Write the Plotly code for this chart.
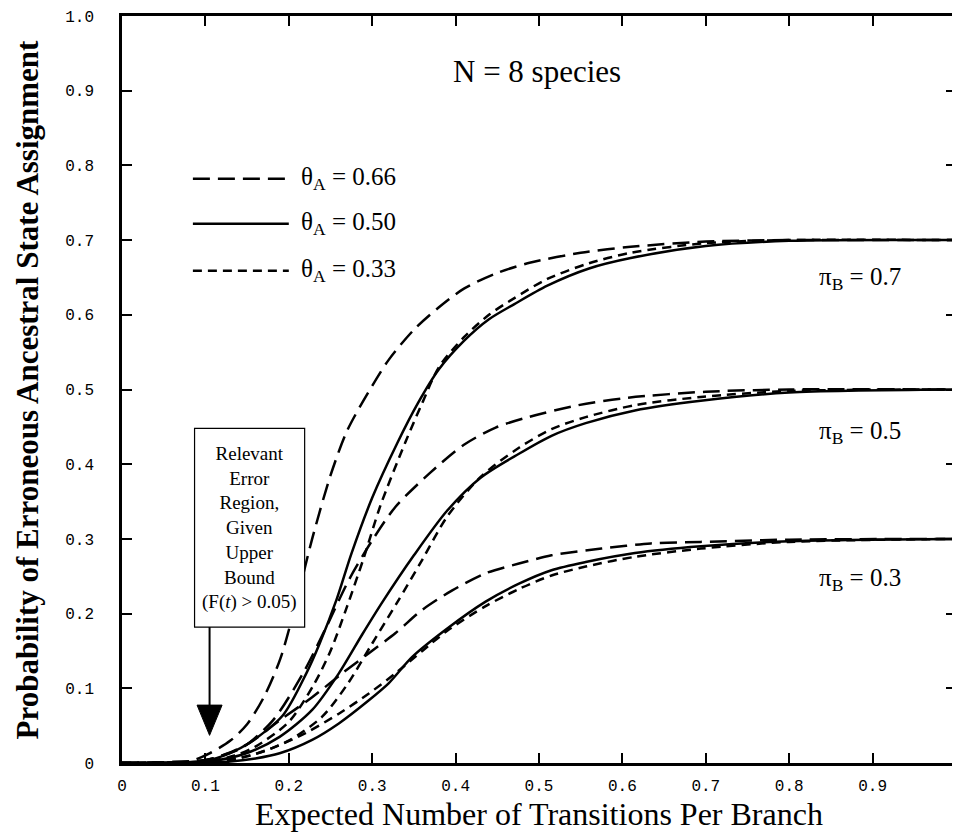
import plotly.graph_objects as go

# ---------------- data ----------------
# pi_B = 0.7
x_a7 = [0.0, 0.08, 0.105, 0.13, 0.15, 0.17, 0.19, 0.21, 0.228, 0.25, 0.27, 0.30, 0.32, 0.35, 0.38, 0.41, 0.45, 0.49, 0.55, 0.61, 0.70, 0.80, 1.0]
y_a7 = [0.0, 0.002, 0.013, 0.03, 0.052, 0.088, 0.14, 0.22, 0.30, 0.385, 0.445, 0.505, 0.54, 0.58, 0.61, 0.635, 0.656, 0.67, 0.683, 0.691, 0.698, 0.7, 0.7]
x_b7 = [0.0, 0.1, 0.129, 0.153, 0.193, 0.221, 0.237, 0.257, 0.275, 0.30, 0.33, 0.355, 0.38, 0.41, 0.44, 0.47, 0.51, 0.56, 0.61, 0.70, 0.80, 1.0]
y_b7 = [0.0, 0.003, 0.013, 0.027, 0.064, 0.12, 0.16, 0.218, 0.28, 0.355, 0.428, 0.482, 0.527, 0.565, 0.594, 0.614, 0.639, 0.662, 0.676, 0.692, 0.699, 0.7]
x_c7 = [0.0, 0.1, 0.135, 0.16, 0.2, 0.23, 0.25, 0.27, 0.29, 0.31, 0.34, 0.36, 0.38, 0.41, 0.44, 0.47, 0.51, 0.56, 0.61, 0.70, 0.80, 1.0]
y_c7 = [0.0, 0.002, 0.01, 0.022, 0.055, 0.105, 0.15, 0.21, 0.275, 0.345, 0.43, 0.482, 0.53, 0.57, 0.6, 0.622, 0.648, 0.669, 0.683, 0.696, 0.7, 0.7]
# pi_B = 0.5
x_a5 = [0.0, 0.1, 0.125, 0.145, 0.181, 0.217, 0.245, 0.272, 0.30, 0.328, 0.368, 0.41, 0.448, 0.487, 0.547, 0.607, 0.70, 0.80, 1.0]
y_a5 = [0.0, 0.004, 0.012, 0.021, 0.057, 0.12, 0.182, 0.245, 0.298, 0.343, 0.387, 0.426, 0.449, 0.463, 0.479, 0.489, 0.497, 0.5, 0.5]
x_b5 = [0.0, 0.11, 0.149, 0.189, 0.228, 0.26, 0.288, 0.312, 0.35, 0.39, 0.43, 0.476, 0.515, 0.556, 0.615, 0.694, 0.80, 1.0]
y_b5 = [0.0, 0.003, 0.013, 0.035, 0.071, 0.12, 0.172, 0.215, 0.278, 0.338, 0.382, 0.414, 0.438, 0.455, 0.472, 0.485, 0.496, 0.5]
x_c5 = [0.0, 0.12, 0.16, 0.2, 0.24, 0.27, 0.30, 0.33, 0.36, 0.39, 0.43, 0.476, 0.515, 0.556, 0.615, 0.694, 0.80, 1.0]
y_c5 = [0.0, 0.003, 0.012, 0.03, 0.062, 0.105, 0.16, 0.215, 0.272, 0.33, 0.383, 0.422, 0.447, 0.463, 0.479, 0.49, 0.498, 0.5]
# pi_B = 0.3
x_a3 = [0.0, 0.1, 0.125, 0.153, 0.189, 0.228, 0.264, 0.296, 0.328, 0.36, 0.396, 0.436, 0.476, 0.515, 0.575, 0.634, 0.694, 0.80, 1.0]
y_a3 = [0.0, 0.004, 0.012, 0.027, 0.057, 0.088, 0.12, 0.147, 0.174, 0.205, 0.231, 0.254, 0.267, 0.278, 0.287, 0.294, 0.296, 0.299, 0.3]
x_b3 = [0.0, 0.13, 0.16, 0.189, 0.228, 0.26, 0.296, 0.32, 0.348, 0.39, 0.436, 0.476, 0.515, 0.556, 0.615, 0.694, 0.80, 1.0]
y_b3 = [0.0, 0.002, 0.006, 0.013, 0.031, 0.053, 0.084, 0.107, 0.142, 0.18, 0.216, 0.24, 0.258, 0.269, 0.281, 0.29, 0.297, 0.3]
x_c3 = [0.0, 0.12, 0.15, 0.18, 0.22, 0.26, 0.296, 0.33, 0.36, 0.39, 0.436, 0.476, 0.515, 0.556, 0.615, 0.694, 0.80, 1.0]
y_c3 = [0.0, 0.003, 0.009, 0.02, 0.04, 0.066, 0.093, 0.122, 0.15, 0.177, 0.21, 0.233, 0.251, 0.263, 0.276, 0.287, 0.296, 0.3]

theta_labels = ["0.66", "0.50", "0.33"]
pi_labels = ["0.7", "0.5", "0.3"]
x_tick_vals = [0.0, 0.1, 0.2, 0.3, 0.4, 0.5, 0.6, 0.7, 0.8, 0.9]
x_tick_text = ["0", "0.1", "0.2", "0.3", "0.4", "0.5", "0.6", "0.7", "0.8", "0.9"]
y_tick_vals = [0.0, 0.1, 0.2, 0.3, 0.4, 0.5, 0.6, 0.7, 0.8, 0.9, 1.0]
y_tick_text = ["0", "0.1", "0.2", "0.3", "0.4", "0.5", "0.6", "0.7", "0.8", "0.9", "1.0"]

# ---------------- styles ----------------
LONG = "17px,8px"
SOLID = "solid"
SHORT = "9px,6px"
dash_for_theta = {"0.66": LONG, "0.50": SOLID, "0.33": SHORT}
SERIF = "Liberation Serif, Times New Roman, serif"
MONO = "Liberation Mono, Courier New, monospace"

curves = [
    (x_a7, y_a7, "0.66"), (x_b7, y_b7, "0.50"), (x_c7, y_c7, "0.33"),
    (x_a5, y_a5, "0.66"), (x_b5, y_b5, "0.50"), (x_c5, y_c5, "0.33"),
    (x_a3, y_a3, "0.66"), (x_b3, y_b3, "0.50"), (x_c3, y_c3, "0.33"),
]

fig = go.Figure()
for xs, ys, th in curves:
    fig.add_trace(go.Scatter(
        x=xs, y=ys, mode="lines", showlegend=False, hoverinfo="skip",
        line=dict(color="black", width=2.5, dash=dash_for_theta[th],
                  shape="spline", smoothing=0.8),
    ))

shapes = []
annotations = []

# legend (drawn manually)
leg_y = [0.782, 0.722, 0.659]
for th, yy in zip(theta_labels, leg_y):
    shapes.append(dict(type="line", xref="x", yref="y", x0=0.085, x1=0.20, y0=yy, y1=yy,
                       line=dict(color="black", width=2.5, dash=dash_for_theta[th])))
    annotations.append(dict(xref="x", yref="y", x=0.212, y=yy, xanchor="left", yanchor="middle",
                            text="θ<sub>A</sub> = " + th, showarrow=False,
                            font=dict(family=SERIF, size=25, color="black")))

# pi_B labels
for lab, yy in zip(pi_labels, [0.649, 0.443, 0.245]):
    annotations.append(dict(xref="x", yref="y", x=0.885, y=yy, xanchor="center", yanchor="middle",
                            text="π<sub>B</sub> = " + lab, showarrow=False,
                            font=dict(family=SERIF, size=25, color="black")))

annotations.append(dict(xref="x", yref="y", x=0.498, y=0.926, xanchor="center", yanchor="middle",
                        text="N = 8 species", showarrow=False,
                        font=dict(family=SERIF, size=31, color="black")))

# annotation box with arrow
shapes.append(dict(type="rect", xref="x", yref="y", x0=0.087, x1=0.219, y0=0.182, y1=0.448,
                   line=dict(color="black", width=1.2), fillcolor="white"))
annotations.append(dict(xref="x", yref="y", x=0.153, y=0.315, xanchor="center", yanchor="middle",
                        text="Relevant<br>Error<br>Region,<br>Given<br>Upper<br>Bound<br>(F(<i>t</i>) > 0.05)",
                        showarrow=False, align="center",
                        font=dict(family=SERIF, size=19, color="black")))
shapes.append(dict(type="line", xref="x", yref="y", x0=0.105, x1=0.105, y0=0.182, y1=0.075,
                   line=dict(color="black", width=2)))
shapes.append(dict(type="path", xref="x", yref="y",
                   path="M 0.090,0.0775 L 0.120,0.0775 L 0.105,0.037 Z",
                   fillcolor="black", line=dict(color="black", width=1)))

# axis titles
annotations.append(dict(xref="paper", yref="paper", x=0, y=0.5, xshift=-95, textangle=-90,
                        xanchor="center", yanchor="middle", showarrow=False,
                        text="<b>Probability of Erroneous Ancestral State Assignment</b>",
                        font=dict(family=SERIF, size=31, color="black")))
annotations.append(dict(xref="paper", yref="paper", x=0.5, y=0, yshift=-51,
                        xanchor="center", yanchor="middle", showarrow=False,
                        text="Expected Number of Transitions Per Branch",
                        font=dict(family=SERIF, size=32, color="black")))

axis_common = dict(showgrid=False, zeroline=False, showline=True, linecolor="black", linewidth=2.5,
                   mirror="allticks", ticks="inside", ticklen=10, tickwidth=2, tickcolor="black",
                   ticklabeloverflow="allow",
                   tickfont=dict(family=MONO, size=16, color="black"))

# the page body adds an ~8px offset, so the figure is sized to fit the window
fig.update_layout(
    width=952, height=825,
    margin=dict(l=114, r=1, t=7, b=70),
    paper_bgcolor="white", plot_bgcolor="white",
    xaxis=dict(range=[0, 1.0], tickvals=x_tick_vals, ticktext=x_tick_text, ticklabelstandoff=6, **axis_common),
    yaxis=dict(range=[0, 1.0], tickvals=y_tick_vals, ticktext=y_tick_text, ticklabelstandoff=22, **axis_common),
    shapes=shapes, annotations=annotations,
)

fig.write_html("out.html")
